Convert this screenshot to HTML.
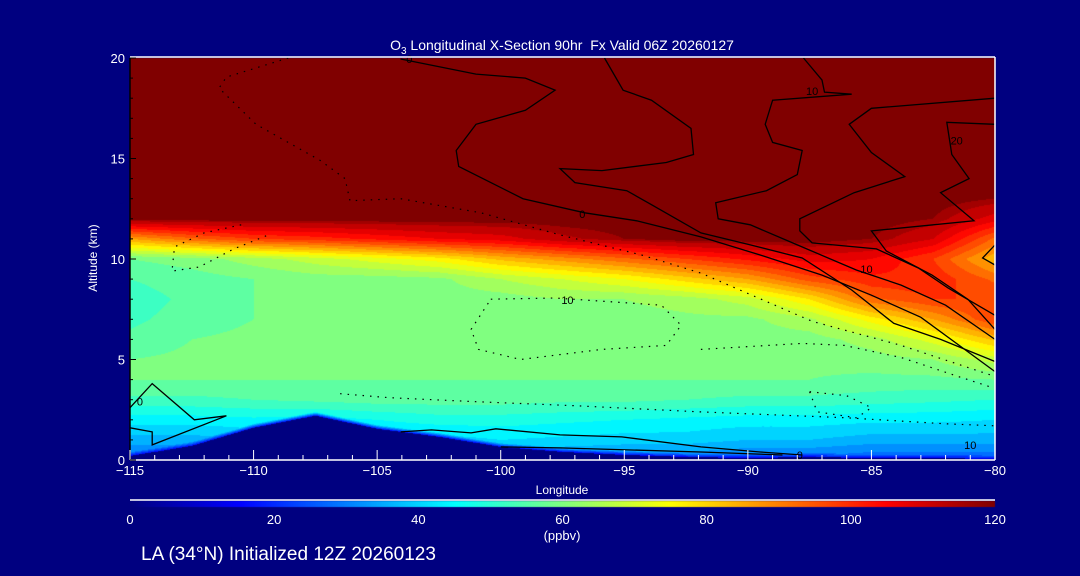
<!DOCTYPE html>
<html><head><meta charset="utf-8"><style>
html,body{margin:0;padding:0;background:#000080;}
#wrap{position:relative;width:1080px;height:576px;overflow:hidden;background:#000080;font-family:"Liberation Sans",sans-serif;}
canvas{position:absolute;left:0;top:0;}
svg{position:absolute;left:0;top:0;}
</style></head><body>
<div id="wrap">
<canvas id="field" width="1080" height="576"></canvas>
<svg id="ov" width="1080" height="576"></svg>
</div>
<script>
// ---- data ----
const lons = [-115,-112.5,-110,-107.5,-105,-102.5,-100,-97.5,-95,-92.5,-90,-87.5,-85,-82.5,-80];
const alts = [0,1,2,3,4,5,6,7,8,9,10,11,12,13,14,15,16,17,18,19,20];
const row0 = [30,30,32,32,32,32,34,34,33,32,30,30,28,28,28];
const row1 = [38,38,40,40,42,42,44,43,42,42,40,40,38,38,38];
const row2 = [46,46,47,46,48,50,50,49,48,47,46,46,45,45,44];
const row3 = [55,55,56,57,58,58,58,57,57,56,55,55,54,53,52];
const row4 = [60,60,60,60,60,60,60,60,60,60,60,60,59,59,60];
const row5 = [60,61,61,61,62,62,62,62,62,61,61,61,62,64,70];
const row6 = [57,60,61,62,62,62,63,63,62,62,62,62,66,74,85];
const row7 = [55,58,60,61,62,62,62,62,62,63,63,67,78,88,100];
const row8 = [54,57,60,60,61,62,62,64,64,66,70,80,95,100,100];
const row9 = [56,58,60,62,62,63,68,72,76,82,88,98,103,103,95];
const row10 = [60,62,66,70,74,78,85,90,95,100,105,110,108,100,85];
const row11 = [88,95,100,102,105,108,110,115,118,120,120,120,118,112,95];
const row12 = [120,120,120,120,120,120,120,120,120,120,120,120,120,118,110];
const row13 = [120,120,120,120,120,120,120,120,120,120,120,120,120,120,118];
const rowTop = [120,120,120,120,120,120,120,120,120,120,120,120,120,120,120];
const terrain = [0.2,0.7,1.6,2.2,1.55,1.15,0.65,0.4,0.25,0.15,0.1,0.15,0.1,0.1,0.05];
const xTicks = [-115,-110,-105,-100,-95,-90,-85,-80];
const yTicks = [0,5,10,15,20];
const cbTicks = [0,20,40,60,80,100,120];

const solidLines = [
 [[-104.05,19.95],[-101,19.2],[-99,19],[-97.8,18.4],[-99,17.4],[-101,16.7],[-101.8,15.4],[-101.7,14.6],[-99.1,13.0],[-96.6,12.3],[-94.5,11.9],[-91.9,11.1],[-89.5,10.2],[-87,9.2],[-85,8.2],[-83,7.1],[-80,4.4]],
 [[-95.8,20],[-95.05,18.4],[-93.9,17.9],[-92.3,16.5],[-92.2,15.2],[-93.3,14.8],[-95.9,14.4],[-97.6,14.5],[-97.0,13.8],[-94.9,13.4],[-93.9,12.7],[-91.9,11.3],[-89.9,10.7],[-87.8,10.05],[-85.8,8.46],[-84.1,6.8],[-82.2,6.0],[-80,4.9]],
 [[-87.75,20],[-87.0,18.9],[-86.9,18.3],[-85.8,18.2],[-89.0,17.9],[-89.3,16.7],[-89.0,15.8],[-87.8,15.4],[-88.0,14.2],[-89.25,13.4],[-91.3,12.8],[-91.2,12.0],[-89.9,11.7],[-88.0,10.7],[-85.6,9.45],[-83.8,8.7],[-82.0,7.7],[-80,6.0]],
 [[-80,18.0],[-85,17.5],[-85.9,16.7],[-85,15.3],[-83.65,14.1],[-85.7,13.3],[-87.9,12.0],[-87.9,11.4],[-87.4,10.8],[-84.8,10.5],[-83.1,9.55],[-81.9,8.56],[-80,7.2]],
 [[-80,16.7],[-81.95,16.8],[-81.75,15.2],[-81.05,14.0],[-82.2,13.3],[-80.85,11.9],[-85,11.4],[-84.4,10.4],[-82.55,9.2],[-81.1,8.0],[-80,6.5]],
 [[-80,10.7],[-80.5,10.05],[-80,9.7]],
 [[-115,2.6],[-114.1,3.8],[-112.4,2.0],[-111.1,2.2],[-114.1,0.75],[-114.1,1.4],[-115,1.6]],
 [[-104.05,1.4],[-102.8,1.5],[-101.2,1.35],[-100.2,1.55],[-97.6,1.25],[-95.1,1.15],[-91.9,0.65],[-89.5,0.4],[-87.8,0.25]],
 [[-100,0.65],[-97.6,0.6],[-91.9,0.4],[-88.6,0.25]]
];
const dottedLines = [
 [[-108.6,20],[-111.1,19.05],[-111.4,18.5],[-109.9,16.7],[-107.3,14.9],[-106.3,14.0],[-106.1,12.9],[-104.05,13.0],[-100.8,12.3],[-97.6,11.2],[-94.3,10.2],[-91.9,9.3],[-87.4,6.9],[-83.8,5.7],[-80.1,4.2]],
 [[-100.4,8.0],[-97.8,8.06],[-93.5,7.7],[-92.7,6.7],[-93.3,5.7],[-95.9,5.5],[-99.2,5.0],[-100.9,5.5],[-101.2,6.5],[-100.4,8.0]],
 [[-91.9,5.5],[-87.8,5.8],[-86.1,5.7],[-83.8,5.1],[-81.6,4.2],[-80.1,3.6]],
 [[-110.5,11.7],[-112,11.3],[-113.2,10.6],[-113.3,9.4],[-112.2,9.6],[-110.8,10.5],[-109.4,11.2]],
 [[-106.5,3.3],[-104.5,3.1],[-101,2.9],[-97,2.7],[-92,2.4],[-86,2.1],[-82,1.8],[-80,1.7]],
 [[-87.5,3.4],[-86,3.2],[-85,2.6],[-85.6,2.1],[-87.2,2.4],[-87.5,3.4]]
];
const contourLabels = [["0",-103.7,19.95],["0",-96.7,12.25],["10",-87.4,18.35],["20",-81.55,15.9],["10",-85.2,9.5],["10",-97.3,7.95],["0",-114.6,2.9],["0",-87.9,0.25],["10",-81.0,0.75]];

// ---- scales ----
const X0=130,X1=995,Y0=58,Y1=460;
function xs(lon){return X0+(lon+115)/35*(X1-X0);}
function ys(a){return Y1-a/20*(Y1-Y0);}
function jet(t){
  const c=v=>Math.max(0,Math.min(1,v));
  return [c(1.5-Math.abs(4*t-3))*255,c(1.5-Math.abs(4*t-2))*255,c(1.5-Math.abs(4*t-1))*255];
}
const grid=[row0,row1,row2,row3,row4,row5,row6,row7,row8,row9,row10,row11,row12,row13,rowTop,rowTop,rowTop,rowTop,rowTop,rowTop,rowTop];
function valueAt(lon,a){
  let fi=(lon-lons[0])/2.5; fi=Math.max(0,Math.min(lons.length-1.0001,fi));
  let fj=Math.max(0,Math.min(alts.length-1.0001,a));
  const i=Math.floor(fi),j=Math.floor(fj),u=fi-i,v=fj-j;
  const g=(jj,ii)=>grid[jj][ii];
  let val=(1-u)*(1-v)*g(j,i)+u*(1-v)*g(j,i+1)+(1-u)*v*g(j+1,i)+u*v*g(j+1,i+1);
  const ter=(1-u)*terrain[i]+u*terrain[i+1];
  const d=a-ter;
  if(d<0) return 0;
  if(d<0.2) val=18+(val-18)*(d/0.2);
  return val;
}
// ---- draw field ----
const cv=document.getElementById('field'),ctx=cv.getContext('2d');
const W=X1-X0,H=Y1-Y0;
const img=ctx.createImageData(W,H);
for(let py=0;py<H;py++){
  const a=(Y1-(Y0+py+0.5))/(Y1-Y0)*20;
  for(let px=0;px<W;px++){
    const lon=-115+(px+0.5)/W*35;
    let v=valueAt(lon,a);
    let t=Math.floor(Math.max(0,Math.min(119.9,v))/4)/30;
    if(v<=0) t=0;
    if(v>=118) t=1;
    const c=jet(t);const k=(py*W+px)*4;
    img.data[k]=c[0];img.data[k+1]=c[1];img.data[k+2]=c[2];img.data[k+3]=255;
  }
}
ctx.putImageData(img,X0,Y0);
// colorbar
for(let px=0;px<X1-X0;px++){
  const c=jet(px/(X1-X0-1));
  ctx.fillStyle=`rgb(${c[0]|0},${c[1]|0},${c[2]|0})`;
  ctx.fillRect(X0+px,501,1,6);
}
// ---- overlay ----
const NS='http://www.w3.org/2000/svg';
const svg=document.getElementById('ov');
function mk(tag,attrs,parent){const e=document.createElementNS(NS,tag);for(const k in attrs)e.setAttribute(k,attrs[k]);(parent||svg).appendChild(e);return e;}
const cg=mk('g',{});


solidLines.forEach(l=>{
  const p=mk('polyline',{points:l.map(q=>xs(q[0]).toFixed(1)+','+ys(q[1]).toFixed(1)).join(' '),fill:'none',stroke:'#000','stroke-width':1.3},cg);
  
  
});
dottedLines.forEach(l=>{
  const p=mk('polyline',{points:l.map(q=>xs(q[0]).toFixed(1)+','+ys(q[1]).toFixed(1)).join(' '),fill:'none',stroke:'#000','stroke-width':1.2,'stroke-dasharray':'1.5 6'},cg);
  
  
});
contourLabels.forEach(L=>{
  const t=mk('text',{x:xs(L[1]),y:ys(L[2])+4,'font-size':11,'text-anchor':'middle',fill:'#000','font-family':'Liberation Sans, sans-serif'},cg);
  t.textContent=L[0];
  
  
});
// axes
const ag=mk('g',{stroke:'#fff','stroke-width':1.5});


mk('line',{x1:X0,y1:Y0-1,x2:X1,y2:Y0-1},ag);
mk('line',{x1:X0,y1:Y1,x2:X1,y2:Y1},ag);
mk('line',{x1:X1,y1:Y0-1,x2:X1,y2:Y1},ag);
mk('line',{x1:X0,y1:500,x2:X1,y2:500},ag);
const lg=mk('line',{x1:X0,y1:Y0,x2:X0,y2:Y1,stroke:'#000','stroke-width':1.5});


for(let lon=-115;lon<=-80;lon++){
  const major=(lon%5===0);
  mk('line',{x1:xs(lon),y1:Y1,x2:xs(lon),y2:Y1-(major?10:5),stroke:'#fff','stroke-width':1},svg);
}
for(let a=0;a<=20;a++){
  const major=(a%5===0);
  mk('line',{x1:X0,y1:ys(a),x2:X0+(major?6:3),y2:ys(a),stroke:'#000','stroke-width':1},svg);
}
const tx={fill:'#fff','font-family':'Liberation Sans, sans-serif'};
xTicks.forEach(v=>{
  const t=mk('text',Object.assign({x:xs(v),y:475,'font-size':13,'text-anchor':'middle'},tx));
  t.textContent=(v<0?'\u2212':'')+Math.abs(v);
  
  
});
yTicks.forEach(v=>{
  const t=mk('text',Object.assign({x:125,y:ys(v)+5,'font-size':13,'text-anchor':'end'},tx));
  t.textContent=v;
  
  
});
cbTicks.forEach(v=>{
  const t=mk('text',Object.assign({x:X0+v/120*(X1-X0),y:524,'font-size':13,'text-anchor':'middle'},tx));
  t.textContent=v;
  
  
});
function label(txt,attrs,name){const t=mk('text',Object.assign({},tx,attrs));t.textContent=txt;return t;}
label('Longitude',{x:562,y:494,'font-size':12,'text-anchor':'middle'},'x-axis-title');
label('Altitude (km)',{x:97,y:258,'font-size':12,'text-anchor':'middle',transform:'rotate(-90 97 258)'},'y-axis-title');
label('(ppbv)',{x:562,y:540,'font-size':13,'text-anchor':'middle'},'colorbar-unit');
const ti=label('',{x:562,y:50,'font-size':14,'text-anchor':'middle'},'chart-title');
ti.innerHTML='O<tspan dy="4" font-size="10">3</tspan><tspan dy="-4"> Longitudinal X-Section 90hr\u00a0\u00a0Fx Valid 06Z 20260127</tspan>';
label('LA (34\u00b0N) Initialized 12Z 20260123',{x:141,y:560,'font-size':19},'footer-init-text');
</script>
</body></html>
